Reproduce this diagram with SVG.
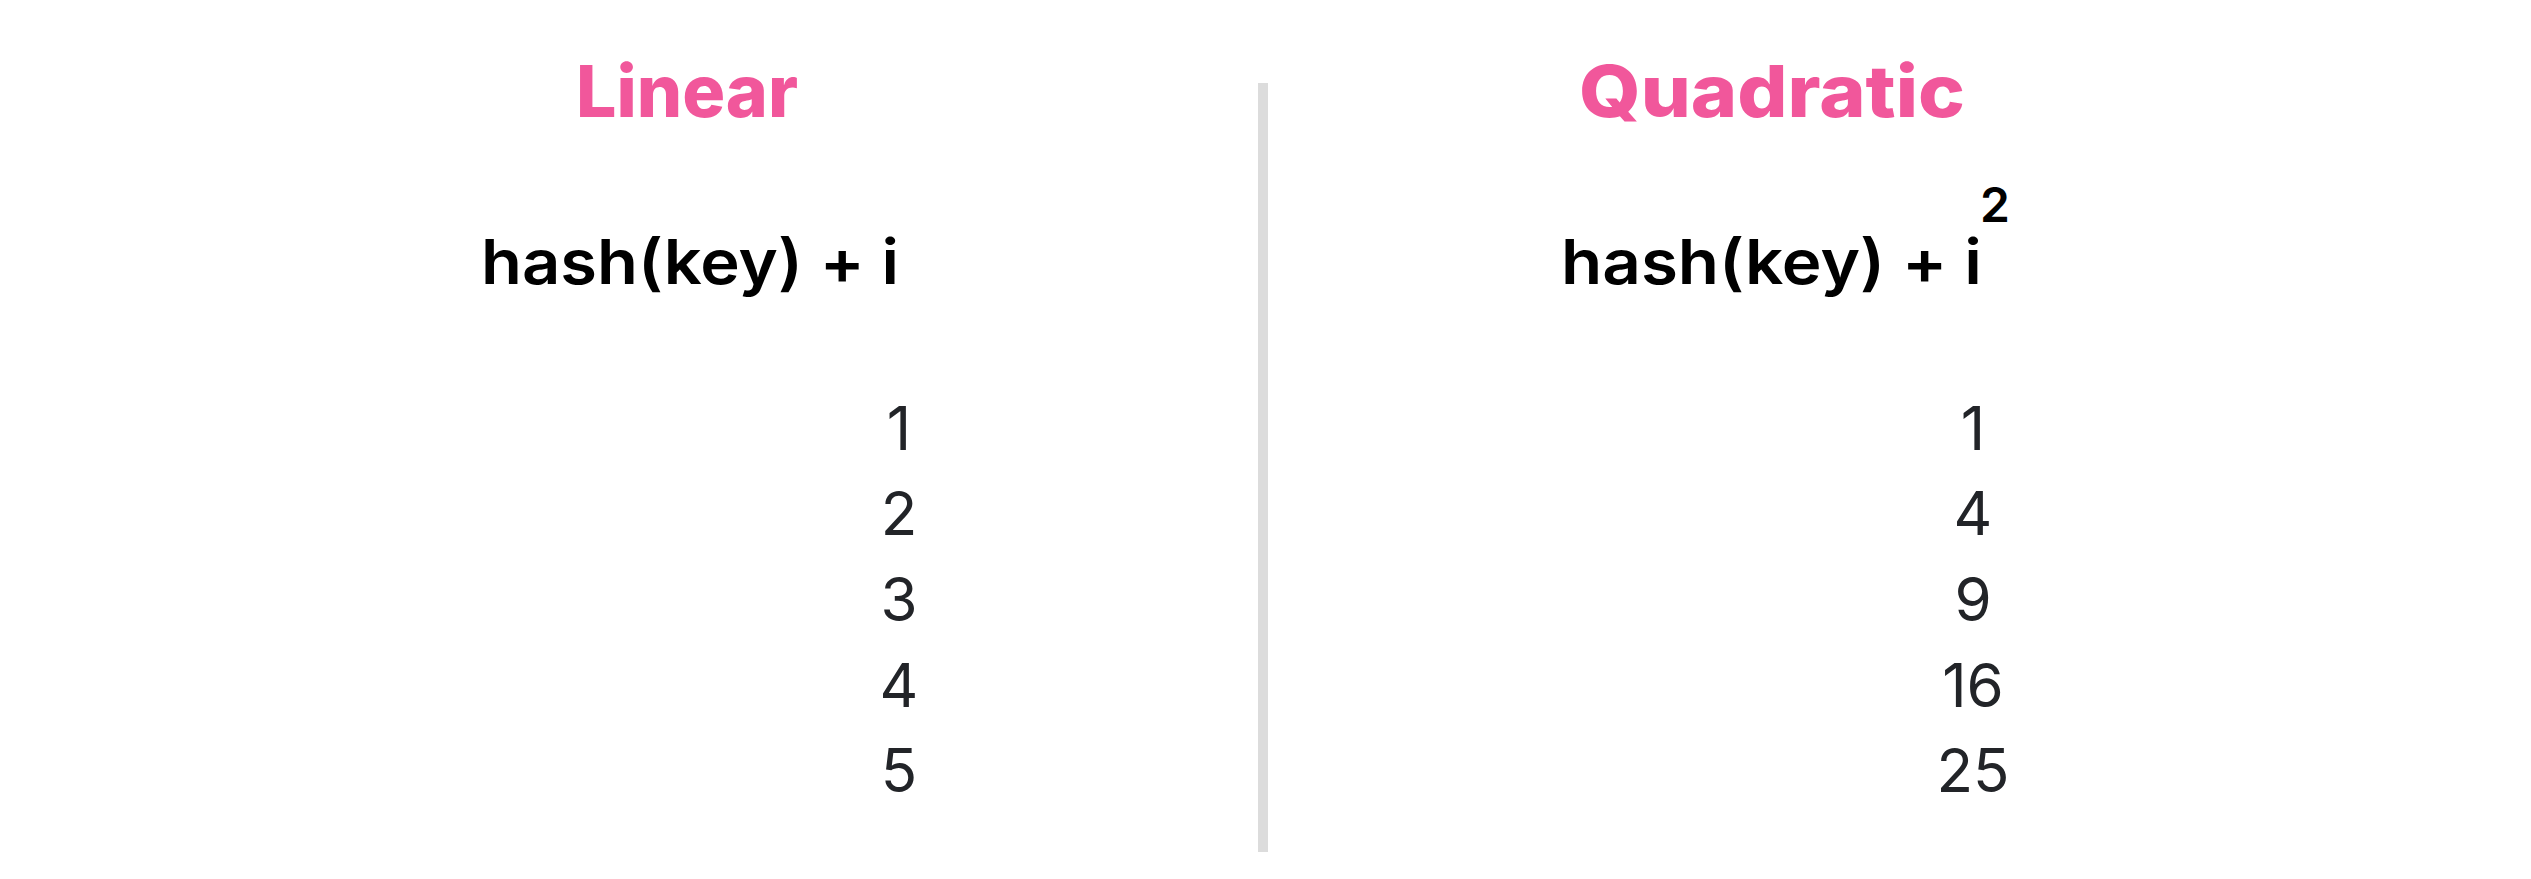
<svg xmlns="http://www.w3.org/2000/svg" width="2531" height="879" viewBox="0 0 2531 879">
<style>
.title{font-family:Inter,"Noto Sans",sans-serif;font-weight:800;font-size:72px;fill:#F1579B}
.formula{font-family:Inter,"Noto Sans",sans-serif;font-weight:600;font-size:62px;fill:#000}
.sup{font-family:Inter,"Noto Sans",sans-serif;font-weight:600;font-size:48px;fill:#000}
.num{font-family:Inter,"Noto Sans",sans-serif;font-weight:400;font-size:60px;fill:#222428;text-anchor:middle}
</style>
<rect x="0" y="0" width="2531" height="879" fill="#ffffff"/>
<g id="divider">
<rect x="1258" y="83" width="10" height="769" fill="#dcdcdc"/>
</g>
<g id="linear">
<text class="title" x="576" y="117" textLength="222" lengthAdjust="spacingAndGlyphs">Linear</text>
<text class="formula" x="481" y="284" textLength="418" lengthAdjust="spacingAndGlyphs">hash(key) + i</text>
<text class="num" x="899" y="450">1</text>
<text class="num" x="899" y="535">2</text>
<text class="num" x="899" y="621">3</text>
<text class="num" x="899" y="707">4</text>
<text class="num" x="899" y="792">5</text>
</g>
<g id="quadratic">
<text class="title" x="1579" y="117" textLength="386" lengthAdjust="spacingAndGlyphs">Quadratic</text>
<text class="formula" x="1561" y="284" textLength="421" lengthAdjust="spacingAndGlyphs">hash(key) + i</text>
<text class="sup" x="1980" y="222">2</text>
<text class="num" x="1973" y="450">1</text>
<text class="num" x="1973" y="535">4</text>
<text class="num" x="1973" y="621">9</text>
<text class="num" x="1973" y="707">16</text>
<text class="num" x="1973" y="792">25</text>
</g>
</svg>
